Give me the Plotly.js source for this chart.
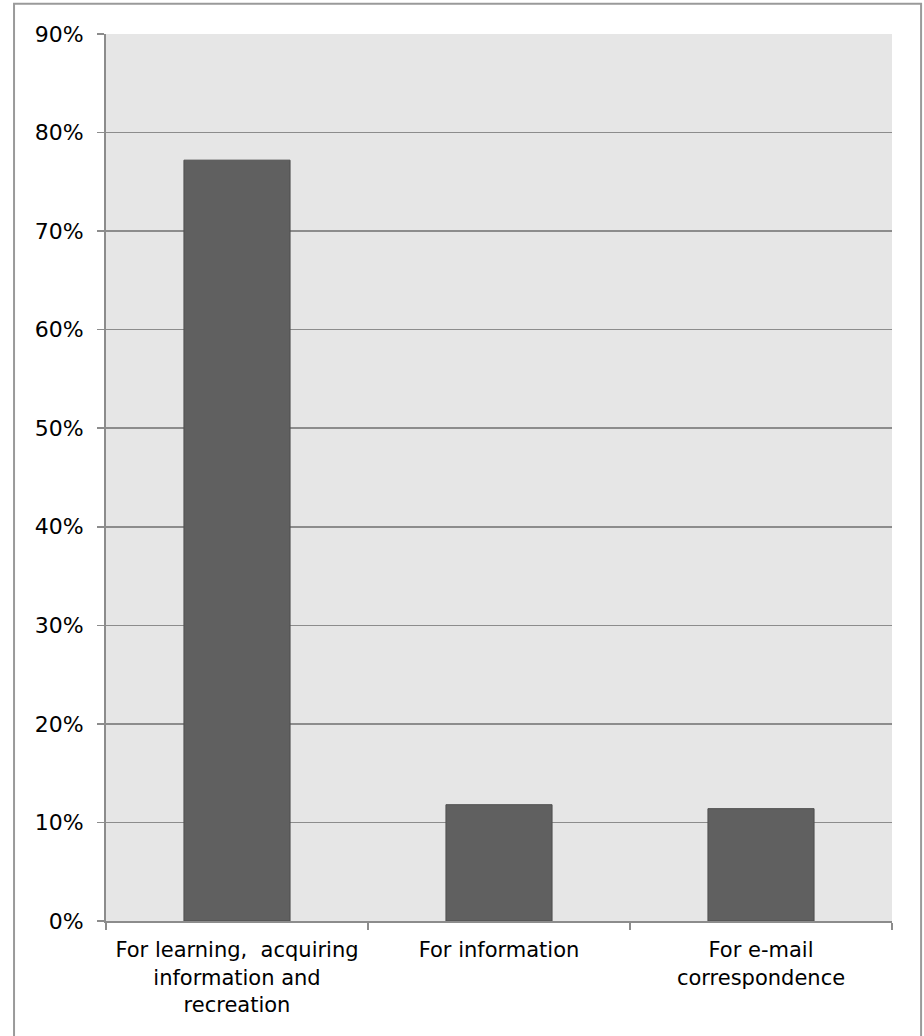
<!DOCTYPE html>
<html>
<head>
<meta charset="utf-8">
<script src="https://cdn.plot.ly/plotly-3.0.1.min.js"></script>
<style>
  html, body { margin: 0; padding: 0; background: #ffffff; }
  #chart { width: 924px; height: 1036px; }
</style>
</head>
<body>
<div id="chart"></div>
<script>
// Purposes of internet use, share of respondents
const categories = [
  "For learning,\u00a0 acquiring<br>information and<br>recreation",
  "For information",
  "For e-mail<br>correspondence"
];
const shares = [0.772, 0.118, 0.114];
const yTickValues = [0, 0.1, 0.2, 0.3, 0.4, 0.5, 0.6, 0.7, 0.8, 0.9];
const yTickLabels = ["0%", "10%", "20%", "30%", "40%", "50%", "60%", "70%", "80%", "90%"];

const fontFamily = "'DejaVu Sans', 'Open Sans', sans-serif";

const trace = {
  type: "bar",
  x: categories,
  y: shares,
  marker: { color: "#606060", line: { color: "#4f4f4f", width: 1 } },
  hoverinfo: "skip"
};

const layout = {
  width: 924,
  height: 1036,
  margin: { l: 106, r: 32, t: 34, b: 115 },
  paper_bgcolor: "#ffffff",
  plot_bgcolor: "#e6e6e6",
  bargap: 0.595,
  showlegend: false,
  font: { family: fontFamily, size: 21, color: "#000000" },
  xaxis: {
    type: "category",
    showgrid: false,
    showline: true,
    linecolor: "#8c8c8c",
    linewidth: 2,
    ticks: "outside",
    tickson: "boundaries",
    ticklen: 7,
    tickcolor: "#8c8c8c",
    tickwidth: 2,
    ticklabelstandoff: 9,
    tickfont: { family: fontFamily, size: 21, color: "#000000" },
    fixedrange: true
  },
  yaxis: {
    range: [0, 0.9],
    tickvals: yTickValues,
    ticktext: yTickLabels,
    showgrid: true,
    gridcolor: "#8c8c8c",
    gridwidth: 1.5,
    zeroline: false,
    showline: true,
    linecolor: "#8c8c8c",
    linewidth: 2,
    ticks: "outside",
    ticklen: 7,
    tickcolor: "#8c8c8c",
    tickwidth: 1.5,
    ticklabelstandoff: 9,
    tickfont: { family: fontFamily, size: 22, color: "#000000" },
    fixedrange: true
  },
  shapes: [
    {
      type: "rect",
      xref: "paper", yref: "paper",
      x0: -0.117, x1: 1.037, y0: -0.2, y1: 1.034,
      line: { color: "#9a9a9a", width: 2 },
      fillcolor: "rgba(0,0,0,0)",
      layer: "below"
    }
  ]
};

Plotly.newPlot("chart", [trace], layout, { displayModeBar: false, staticPlot: true });
</script>
</body>
</html>
